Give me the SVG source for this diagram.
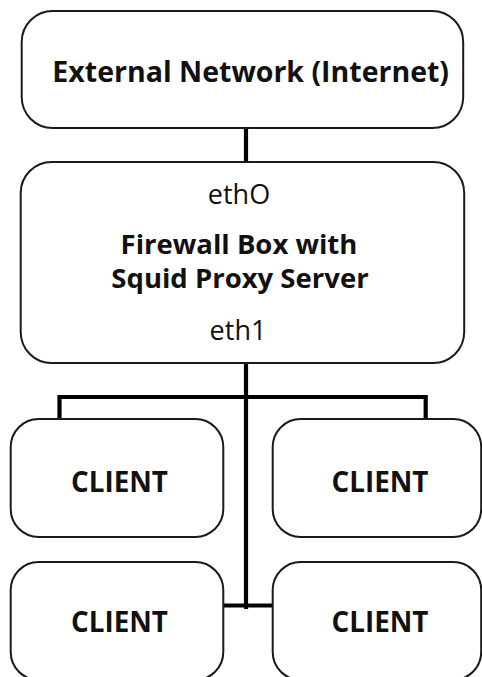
<svg xmlns="http://www.w3.org/2000/svg" width="482" height="677" viewBox="0 0 482 677">
<style>
.box{fill:#fff;stroke:#1a1a1a;stroke-width:2}
.conn{fill:none;stroke:#000;stroke-width:4.2;stroke-linejoin:miter;stroke-linecap:butt}
text{font-family:"Open Sans","Noto Sans",sans-serif;fill:#111;text-anchor:middle}
.b{font-weight:bold}
.c{font-weight:bold;font-size:27.8px}
.e{font-size:27px}
.f{font-weight:bold;font-size:27.5px}
</style>
<rect width="482" height="677" fill="#fff"/>
<g id="connectors">
<line class="conn" x1="246" y1="128" x2="246" y2="162"/>
<line class="conn" x1="246" y1="363" x2="246" y2="609"/>
<path class="conn" d="M59.5,419 V397 H425.7 V419"/>
<line class="conn" x1="223" y1="605.5" x2="272" y2="605.5"/>
</g>
<g id="internet">
<rect class="box" x="21.7" y="11" width="441.5" height="117" rx="31"/>
<text class="b" x="250.7" y="81.7" font-size="28.5">External Network (Internet)</text>
</g>
<g id="firewall">
<rect class="box" x="20.7" y="162" width="443.5" height="201" rx="31"/>
<text class="e" x="239" y="203.5">ethO</text>
<text class="f" x="239" y="253.5">Firewall Box with</text>
<text class="f" x="240" y="288.3">Squid Proxy Server</text>
<text class="e" x="238" y="340">eth1</text>
</g>
<g id="client1">
<rect class="box" x="10.7" y="419" width="212.6" height="118" rx="28"/>
<text class="c" x="119.5" y="492.3">CLIENT</text>
</g>
<g id="client2">
<rect class="box" x="272.7" y="419" width="208.5" height="118" rx="28"/>
<text class="c" x="380" y="492.3">CLIENT</text>
</g>
<g id="client3">
<rect class="box" x="10.7" y="562" width="212.6" height="118" rx="28"/>
<text class="c" x="119.5" y="632.3">CLIENT</text>
</g>
<g id="client4">
<rect class="box" x="272.7" y="562" width="208.5" height="118" rx="28"/>
<text class="c" x="380" y="632.3">CLIENT</text>
</g>
</svg>
